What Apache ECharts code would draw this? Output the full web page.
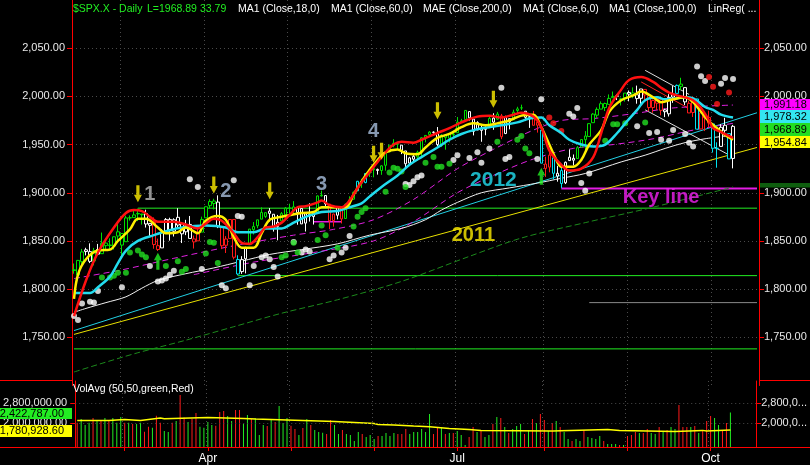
<!DOCTYPE html>
<html>
<head>
<meta charset="utf-8">
<style>
  html, body { margin: 0; padding: 0; background: #000; }
  #chart { width: 810px; height: 465px; }
</style>
<script src="https://cdn.jsdelivr.net/npm/echarts@6.0.0/dist/echarts.min.js"></script>
</head>
<body>
<div id="chart"></div>
<script>
// trading days shown on the chart, per month
const monthDays = [
  ['Feb', [12,13,14,18,19,20,21,24,25,26,27,28]],
  ['Mar', [3,4,5,6,7,10,11,12,13,14,17,18,19,20,21,24,25,26,27,28,31]],
  ['Apr', [1,2,3,4,7,8,9,10,11,14,15,16,17,21,22,23,24,25,28,29,30]],
  ['May', [1,2,5,6,7,8,9,12,13,14,15,16,19,20,21,22,23,27,28,29,30]],
  ['Jun', [2,3,4,5,6,9,10,11,12,13,16,17,18,19,20,23,24,25,26,27,30]],
  ['Jul', [1,2,3,7,8,9,10,11,14,15,16,17,18,21,22,23,24,25,28,29,30,31]],
  ['Aug', [1,4,5,6,7,8,11,12,13,14,15,18,19,20,21,22,25,26,27,28,29]],
  ['Sep', [2,3,4,5,8,9,10,11,12,15,16,17,18,19,22,23,24,25,26,29,30]],
  ['Oct', [1,2,3,6,7,8]]
];
const labelMonths = ['Apr', 'Jul', 'Oct'];

// daily OHLC
const opens = [
  1820.1,1814.8,1828.5,1839.0,1838.9,1829.2,1841.1,1836.8,1847.7,1845.8,1844.9,1855.1,
  1857.7,1849.2,1874.1,1874.2,1878.5,1877.9,1878.3,1866.2,1869.1,1845.1,1842.8,1858.9,1872.3,1860.1,1874.5,1867.7,1859.5,1867.1,1852.1,1850.1,1859.2,
  1874.0,1886.6,1891.4,1890.3,1863.9,1845.5,1852.6,1872.3,1830.7,1818.2,1831.5,1846.0,1861.7,1865.8,1872.6,1879.3,1881.0,1877.7,1865.0,1870.8,1877.1,
  1884.4,1885.3,1879.5,1883.7,1868.5,1877.4,1875.3,1880.0,1896.8,1897.1,1888.2,1871.2,1876.7,1884.9,1873.3,1888.2,1893.3,1902.0,1911.8,1910.6,1920.3,
  1923.9,1923.1,1923.1,1928.5,1942.4,1949.0,1950.3,1949.4,1943.4,1930.8,1934.8,1937.2,1942.7,1957.5,1960.5,1962.9,1962.1,1949.3,1959.9,1956.6,1960.8,
  1962.3,1973.1,1975.9,1984.2,1976.4,1965.1,1966.7,1965.8,1969.9,1977.4,1976.4,1979.8,1961.5,1976.9,1975.7,1985.3,1988.1,1984.6,1978.3,1980.0,1973.2,1965.1,
  1929.8,1926.6,1936.3,1917.3,1923.0,1910.4,1933.4,1935.7,1935.6,1947.4,1958.9,1958.4,1972.7,1980.5,1986.8,1992.6,1991.7,1998.6,2000.5,1997.4,1998.5,
  2004.1,2003.6,2001.7,1998.0,2007.2,2000.7,1988.4,1992.9,1996.7,1986.0,1981.9,1999.3,2003.1,2012.7,2009.1,1992.8,1983.3,1997.3,1966.2,1979.0,1978.2,
  1971.4,1945.8,1948.1,1970.0,1961.4,1935.6
];
const highs = [
  1826.6,1830.3,1841.7,1842.9,1847.5,1842.8,1846.9,1858.7,1852.9,1852.7,1854.5,1867.9,
  1857.7,1876.2,1876.5,1881.9,1883.6,1877.9,1882.4,1868.4,1874.4,1852.4,1862.3,1873.8,1874.1,1873.5,1884.0,1867.9,1871.9,1875.9,1855.6,1866.6,1875.2,
  1885.8,1893.2,1893.8,1897.3,1864.0,1855.0,1872.4,1872.5,1835.1,1834.2,1844.0,1862.3,1869.6,1871.9,1884.9,1879.8,1884.1,1877.7,1877.0,1880.0,1885.2,
  1888.6,1891.3,1885.5,1883.7,1879.0,1889.1,1878.8,1897.1,1902.2,1897.1,1888.2,1878.3,1886.0,1884.9,1888.8,1896.3,1901.3,1912.3,1914.5,1920.0,1924.0,
  1925.9,1925.1,1928.6,1941.7,1949.4,1955.6,1950.9,1949.4,1943.4,1937.3,1941.2,1943.7,1957.7,1959.9,1963.9,1963.7,1968.2,1960.8,1959.9,1961.0,1964.2,
  1978.6,1976.7,1985.6,1984.2,1976.4,1974.2,1969.8,1968.7,1979.9,1982.5,1983.9,1981.8,1979.9,1976.9,1986.2,1989.2,1991.4,1984.6,1981.5,1984.9,1978.9,1965.1,
  1937.4,1942.9,1936.3,1927.9,1928.9,1932.4,1944.9,1939.7,1948.4,1955.2,1964.0,1972.0,1982.6,1988.6,1994.8,1993.5,2002.0,2005.0,2002.1,1998.6,2003.4,
  2006.1,2009.3,2011.2,2007.7,2007.2,2001.0,1996.7,1997.7,1996.7,1987.2,2002.3,2010.7,2012.3,2019.3,2009.1,1995.4,1999.8,1997.3,1986.4,1981.3,1985.2,
  1971.4,1952.3,1971.2,1977.8,1961.4,1970.4
];
const lows = [
  1816.0,1809.2,1825.6,1835.0,1827.0,1824.6,1835.6,1836.8,1840.2,1840.7,1841.1,1847.7,
  1834.4,1849.2,1871.1,1874.2,1870.6,1867.0,1863.9,1854.4,1841.9,1839.6,1842.8,1858.9,1850.3,1854.6,1863.5,1847.8,1856.0,1852.6,1842.1,1850.1,1859.2,
  1874.0,1883.8,1882.7,1863.3,1841.5,1837.5,1852.4,1830.9,1814.4,1815.8,1816.3,1846.0,1856.7,1863.2,1872.6,1873.9,1870.2,1859.7,1850.6,1870.8,1872.7,
  1878.0,1878.5,1866.8,1867.7,1859.8,1870.1,1867.0,1880.0,1896.0,1885.8,1862.4,1864.8,1872.4,1868.1,1873.3,1885.4,1893.3,1902.0,1905.0,1909.8,1916.4,
  1916.0,1918.8,1918.6,1922.9,1942.4,1947.2,1944.6,1940.1,1925.8,1927.7,1930.9,1933.6,1938.0,1952.3,1959.2,1958.9,1948.5,1947.5,1944.7,1952.2,1958.2,
  1962.3,1972.6,1975.9,1974.9,1959.5,1965.1,1952.9,1959.6,1969.9,1965.3,1975.7,1955.6,1960.8,1965.8,1975.7,1982.4,1985.8,1974.4,1967.3,1970.0,1962.4,1930.7,
  1916.4,1921.2,1913.8,1911.5,1904.8,1909.0,1933.4,1928.3,1935.6,1947.4,1941.5,1958.4,1972.7,1977.7,1986.8,1984.8,1991.7,1998.6,1996.2,1990.5,1994.6,
  1994.9,1998.1,1992.4,1990.1,1995.6,1984.6,1983.0,1985.9,1980.3,1978.5,1979.1,1993.3,2003.1,2006.6,1991.0,1982.8,1978.6,1966.0,1966.2,1964.0,1968.0,
  1941.7,1926.0,1948.1,1958.4,1935.1,1925.3
];
const closes = [
  1819.3,1829.8,1838.6,1840.8,1828.8,1839.8,1836.3,1847.6,1845.1,1845.2,1854.3,1859.5,
  1845.7,1873.9,1873.8,1877.0,1878.0,1877.2,1867.6,1868.2,1846.3,1841.1,1858.8,1872.3,1860.8,1872.0,1866.5,1857.4,1865.6,1852.6,1849.0,1857.6,1872.3,
  1885.5,1890.9,1888.8,1865.1,1845.0,1852.0,1872.2,1833.1,1815.7,1830.6,1843.0,1862.3,1864.9,1871.9,1879.6,1875.4,1878.6,1863.4,1869.4,1878.3,1884.0,
  1883.7,1881.1,1884.7,1867.7,1878.2,1875.6,1878.5,1896.7,1897.5,1888.5,1870.9,1877.9,1885.1,1872.8,1888.0,1892.5,1900.5,1911.9,1909.8,1920.0,1923.6,
  1925.0,1924.2,1927.9,1940.5,1949.4,1951.3,1950.8,1943.9,1930.1,1936.2,1937.8,1942.0,1957.0,1959.5,1962.9,1962.6,1950.0,1959.5,1957.2,1961.0,1960.2,
  1973.3,1974.6,1985.4,1977.7,1963.7,1972.8,1964.7,1967.6,1977.1,1973.3,1981.6,1958.1,1978.2,1973.6,1983.5,1987.0,1988.0,1978.3,1978.9,1970.0,1970.1,1930.7,
  1925.2,1939.0,1920.2,1920.2,1909.6,1931.6,1936.9,1933.8,1946.7,1955.2,1955.1,1971.7,1981.6,1986.5,1992.4,1988.4,1997.9,2000.0,2000.1,1996.7,2003.4,
  2002.3,2000.7,1997.7,2007.7,2001.5,1988.4,1995.7,1997.5,1985.5,1984.1,1999.0,2001.6,2011.4,2010.4,1994.3,1982.8,1998.3,1966.0,1982.9,1977.8,1972.3,
  1946.2,1946.2,1967.9,1964.8,1935.1,1968.9
];
// paint bar colour per candle: g green, r red, w white, c cyan
const paint =
  'gggwwgwggg' + 'ggggggggww' + 'rrwwwwwwww' + 'rrggggwrrr' + 'rcwwgggggw' +
  'wwggggwwww' + 'wggwrrwrgg' + 'gcgcggwggg' + 'ggwwwwgggg' + 'wwgggggggw' +
  'wwwwgwgrww' + 'gggwwrrcrr' + 'cwcwwwgggg' + 'ggggggwggw' + 'gwwrrrrrww' +
  'wcgwrrcrrr' + 'ccwwcw';

// volume (thousands) and its colour
const volK = [
  2025,2167,1934,2025,2206,2128,2128,2206,2128,2206,
  2025,2245,2025,2025,1973,1973,2025,1675,1869,1830,
  2296,2025,1701,1662,2025,2089,3100,2232,2050,2180,
  2400,1869,1830,2050,1934,1908,2439,2478,2284,2089,
  2517,2517,1973,2322,2167,2206,1546,1934,1895,2128,
  2050,2672,2012,2206,1908,1779,1546,1817,2167,1934,
  1740,1662,1636,1584,2128,1934,1584,1740,1584,1546,
  1312,1662,1584,1468,1546,1390,1507,1507,1623,1507,
  1623,1584,1584,1779,1584,1662,1662,1779,1662,2361,
  1584,1817,1817,1584,1623,1623,1701,1546,1157,1468,
  1856,1662,1701,1468,1546,1973,2245,2206,1856,1623,
  1779,1895,1973,1584,1740,2167,2012,2361,2128,1701,
  2012,2089,1856,1662,1390,1312,1390,1312,1740,1468,
  1429,1390,1507,1312,1196,1196,1196,1157,1157,1507,
  1546,1662,1623,1623,1779,1623,1584,1856,1662,1740,
  1856,1779,2711,1856,1856,1856,1895,1623,1701,2089,
  2284,2206,1934,1740,2012,2422.787
];
const volPaint =
  'rgggrgrgrg' + 'ggrgrggrrg' + 'rrggrgrrgr' + 'rggggrrrgg' + 'rrggrgggrg' +
  'rgggrrgrgr' + 'gggrrggrgg' + 'ggrgggrggg' + 'grrrgggggg' + 'rrgrgrgggr' +
  'rgrggrgrgr' + 'gggrgrgrrg' + 'rgrggrggrg' + 'gggrgggrgr' + 'rrgrrggrgr' +
  'ggrrrgrgrr' + 'rggrrg';
// 50-day volume average, [bar, thousands] at each step
const volAvgK = [[0,2115],[8,2154],[12,2115],[16,2154],[18,2206],[21,2180],[22,2232],[33,2193],
  [42,2167],[45,2115],[57,2076],[65,2038],[70,1999],[75,1960],[76,1934],[80,1895],[85,1869],
  [89,1805],[94,1766],[99,1727],[102,1701],[120,1766],[134,1727],[137,1688],[151,1727],
  [158,1701],[159,1740],[165,1740]];

// indicator lines, [bar, price]
const ma6 = [[0,1772],[3,1809],[6,1838],[10,1864],[13,1879],[15,1882],[17,1881],[19,1875],[21,1870],
  [25,1870],[28,1867],[31,1863],[33,1868],[35,1873],[37,1871],[40,1858],[42,1848],[44,1847],[46,1854],
  [48,1864],[50,1865],[52,1869],[54,1877],[56,1885],[58,1886],[61,1890],[62,1892],[64,1887],[67,1885],
  [69,1892],[71,1905],[73,1916],[76,1932],[78,1942],[80,1950],[82,1953],[85,1952],[87,1955],[91,1962],
  [94,1967],[97,1973],[101,1979],[104,1980],[107,1978],[110,1981],[112,1983],[115,1979],[117,1968],
  [119,1944],[122,1929],[124,1923],[127,1925],[130,1937],[132,1962],[134,1988],[137,2007],[139,2017],
  [142,2020],[145,2015],[147,2009],[149,2004],[151,2001],[153,1999],[155,1996],[157,1988],[159,1975],
  [160,1967],[162,1963],[165,1957]];
const ma18 = [[0,1790],[1,1815],[3,1831],[6,1840],[9,1841],[11,1850],[14,1862],[16,1873],[18,1873],
  [21,1864],[23,1858],[26,1859],[28,1864],[31,1858],[33,1871],[36,1876],[38,1872],[40,1854],[42,1843],
  [45,1843],[47,1858],[49,1872],[52,1875],[57,1879],[60,1880],[62,1885],[66,1885],[68,1885],[70,1898],
  [73,1918],[76,1934],[78,1942],[81,1945],[83,1941],[86,1940],[88,1947],[91,1957],[94,1961],[97,1968],
  [100,1972],[103,1970],[106,1972],[109,1975],[112,1980],[115,1981],[117,1968],[119,1950],[121,1932],
  [122,1927],[125,1927],[127,1934],[129,1950],[132,1965],[134,1984],[137,1996],[140,2001],[142,2005],
  [145,1999],[147,1994],[150,1997],[153,1999],[155,1994],[157,1984],[159,1974],[161,1967],[163,1960],
  [165,1955]];
const ma60 = [[0,1796],[4,1796],[6,1802],[9,1813],[11,1827],[13,1840],[16,1850],[20,1856],[23,1860],
  [27,1864],[33,1866],[38,1864],[41,1859],[45,1859],[48,1863],[52,1863],[55,1869],[58,1875],[62,1880],
  [66,1881],[69,1885],[72,1889],[74,1896],[77,1906],[81,1918],[84,1929],[87,1937],[91,1947],[94,1955],
  [97,1961],[101,1966],[104,1968],[107,1970],[111,1973],[114,1977],[117,1978],[119,1970],[122,1962],
  [124,1955],[127,1950],[130,1948],[133,1950],[136,1962],[138,1972],[141,1986],[143,1996],[146,1999],
  [148,1997],[151,1998],[153,1999],[155,1998],[158,1989],[160,1986],[162,1981],[165,1978]];
const ma100 = [[0,1776],[3,1780],[8,1786],[13,1792],[17,1801],[21,1809],[28,1816],[35,1822],[42,1829],
  [49,1836],[57,1841],[66,1847],[74,1856],[82,1863],[88,1872],[92,1882],[96,1890],[102,1900],[109,1905],
  [116,1910],[122,1915],[128,1920],[137,1932],[143,1939],[148,1946],[153,1952],[158,1956],[165,1960]];
const ma200 = [[0,1714],[7,1723],[16,1734],[28,1747],[40,1761],[52,1775],[66,1789],[82,1808],[99,1834],
  [112,1853],[128,1869],[145,1885],[165,1906]];
const maeUpper = [[0,1811],[12,1820],[25,1832],[40,1845],[55,1856],[65,1862],[75,1872],[85,1893],
  [96,1925],[105,1945],[115,1965],[122,1975],[130,1977],[140,1982],[150,1988],[165,1991]];
const maeLower = [[30,1815],[45,1828],[60,1838],[75,1850],[85,1870],[96,1900],[105,1918],[115,1935],
  [125,1946],[135,1950],[145,1956],[155,1965],[165,1972]];

// drawn trend lines and levels
const trend2012 = [[0,1757],[171,1983]];
const trend2011 = [[0,1753],[171,1947]];
const downTrendHi = [[143,2027],[154,2002]];
const downTrendLo = [[143,1986],[165,1937]];
const redTrend = [[142,2015],[158,1978]];
const keyLine = [[122,1904.5],[171,1904.5]];
const rangeTop = [[16,1884],[171,1884]];
const rangeLow = [[41,1814],[171,1814]];
const floorLine = [[0,1738],[171,1738]];
const greyLevel = [[129,1786],[171,1786]];
const boxSegment = [[60,1870],[67,1870]];

// signal dots
const whiteDots = [[0,1772],[1,1768],[2,1785],[4,1787],[5,1786],[6,1798],[12,1802],[19,1824],[21,1808],
  [22,1809],[23,1811],[24,1815],[25,1819],[29,1914],[31,1906],[32,1821],[37,1804],[38,1801],[40,1913],
  [41,1876],[42,1875],[44,1804],[45,1824],[47,1833],[48,1835],[49,1831],[50,1823],[51,1813],[55,1849],
  [57,1838],[58,1841],[59,1839],[64,1831],[65,1835],[67,1838],[68,1843],[69,1855],[83,1909],[84,1908],
  [85,1912],[86,1916],[87,1918],[95,1934],[96,1939],[99,1936],[101,1942],[102,1931],[104,1946],[107,2009],
  [108,1935],[109,1937],[116,1935],[117,1997],[124,1982],[125,1979],[126,1988],[127,1910],[128,1902],
  [129,1920],[141,1969],[144,1962],[146,1963],[147,1955],[149,1954],[150,1965],[153,1961],[154,1952],
  [155,1948],[156,2031],[157,2021],[158,2016],[162,2013],[163,2019],[165,2018]];
const greenDots = [[7,1812],[9,1812],[10,1814],[11,1817],[13,1817],[14,1838],[16,1840],[17,1836],[18,1833],
  [23,1824],[26,1829],[27,1818],[28,1821],[33,1837],[34,1849],[35,1848],[36,1827],[52,1833],[53,1835],
  [55,1848],[56,1838],[61,1851],[62,1866],[63,1856],[66,1843],[70,1865],[71,1875],[72,1880],[73,1884],
  [78,1901],[79,1921],[80,1926],[81,1925],[82,1922],[83,1906],[88,1931],[90,1937],[91,1927],[92,1927],
  [94,1930],[106,1953],[111,1955],[112,1959],[113,1946],[114,1941],[133,1954],[135,1971],[136,1971],
  [138,1972],[143,1973]];
const redDots = [[119,1978],[120,1972],[122,1964],[159,2020],[160,2010],[161,1992],[164,2004]];

// arrows and notes
const downArrows = [[16,1899],[35,1908],[49,1902],[75,1940],[77,1943],[91,1985],[105,1997]];
const upArrows = [[21,1829],[117,1917]];
const noteText = ['1', '2', '3', '4', '2012', '2011', 'Key line'];
const noteAt = [[19,1898],[38,1901],[62,1909],[75,1964],[105,1913],[100,1856],[146.5,1895]];

// price tags on the right axis, volume tags on the left
const priceTags = ['1,991.18', '1,978.32', '1,968.89', '1,954.84'];
const volTags = ['2,422,787.00', '1,780,928.60'];
const priceTicks = [1750, 1800, 1850, 1900, 1950, 2000, 2050];
const volTicks = [2000000, 2800000];

// ---------------------------------------------------------------
const cats = [];
const monthStart = [];
monthDays.forEach(([m, days]) => {
  if (cats.length) monthStart.push(cats.length);
  days.forEach(d => cats.push(m + ' ' + d));
});
for (let k = 0; k < 6; k++) cats.push('');

const PAINT = { g: '#00e000', r: '#ff1a1a', w: '#ffffff', c: '#00e2f0' };
const UP = '#22ee22', DOWN = '#ff1a1a';
const FONT = '"Liberation Sans", Arial, sans-serif';

function money(v, d) {
  const s = Number(v).toFixed(d).split('.');
  s[0] = s[0].replace(/\B(?=(\d{3})+(?!\d))/g, ',');
  return s.join('.');
}

const candles = opens.map((o, i) => {
  const col = PAINT[paint[i]];
  return {
    value: [o, closes[i], lows[i], highs[i]],
    itemStyle: { color: '#000', color0: col, borderColor: col, borderColor0: col, borderWidth: 1 }
  };
});

function line(data, color, width, type, z, smooth) {
  return {
    type: 'line', xAxisIndex: 0, yAxisIndex: 0, data: data, symbol: 'none',
    smooth: smooth || false, silent: true, z: z || 3,
    lineStyle: { color: color, width: width, type: type || 'solid' }
  };
}
function dots(data, color) {
  return {
    type: 'scatter', xAxisIndex: 0, yAxisIndex: 0, data: data, symbolSize: 6,
    itemStyle: { color: color }, silent: true, z: 4
  };
}

const monthTick = (i, v) => monthStart.includes(i);
const monthLabel = (i, v) => labelMonths.includes(v.split(' ')[0]) && monthStart.includes(i);
const dotted = { color: '#4a4a4a', type: [1, 3], width: 1 };

const noteColors = ['#b8b8b8', '#a8bedc', '#a8bedc', '#a8bedc', '#22e0f2', '#ffee00', '#f020f0'];
const noteSizes = [20, 20, 20, 20, 21, 20, 20];

const chart = echarts.init(document.getElementById('chart'), null, { renderer: 'canvas' });

const graphics = [];
function gText(x, y, text, fill, align, size) {
  graphics.push({ type: 'text', x: x, y: y, z: 100,
    style: { text: text, fill: fill, font: (size || 11) + 'px ' + FONT, align: align || 'left', verticalAlign: 'middle' } });
}
function gRect(x, y, w, h, fill) {
  graphics.push({ type: 'rect', z: 99, shape: { x: x, y: y, width: w, height: h }, style: { fill: fill } });
}
function gLine(x1, y1, x2, y2, stroke) {
  graphics.push({ type: 'line', z: 99, shape: { x1: x1, y1: y1, x2: x2, y2: y2 }, style: { stroke: stroke, lineWidth: 1 } });
}

// header
gText(73, 9, '$SPX.X - Daily', '#22ee22', 'left', 10.5);
gText(147, 9, 'L=1968.89', '#22ee22', 'left', 10.5);
gText(200, 9, '33.79', '#22ee22', 'left', 10.5);
gText(238, 9, 'MA1 (Close,18,0)', '#ffffff', 'left', 10.5);
gText(331, 9, 'MA1 (Close,60,0)', '#ffffff', 'left', 10.5);
gText(423, 9, 'MAE (Close,200,0)', '#ffffff', 'left', 10.5);
gText(523, 9, 'MA1 (Close,6,0)', '#ffffff', 'left', 10.5);
gText(609, 9, 'MA1 (Close,100,0)', '#ffffff', 'left', 10.5);
gText(708, 9, 'LinReg( ...', '#ffffff', 'left', 10.5);
gText(73, 389, 'VolAvg (50,50,green,Red)', '#ffffff', 'left', 10.5);

// panel separators
gLine(0, 380.5, 72, 380.5, '#ff0000');
gLine(759, 380.5, 810, 380.5, '#ff0000');
gLine(0, 447.5, 810, 447.5, '#ff0000');

// right price tags
const tagBoxes = [[99, 11, '#ff00ff'], [110, 13, '#33e6f0'], [123, 13, '#22dd22'], [136, 12, '#ffff00']];
tagBoxes.forEach((b, k) => {
  gRect(760, b[0], 50, b[1], b[2]);
  gText(764, b[0] + b[1] / 2 + 0.5, priceTags[k], '#000000');
});
gRect(760, 183, 50, 4.5, '#0e5e0e');

// left volume tags
gRect(0, 408, 72, 11, '#22ee22');
gText(64, 413.5, volTags[0], '#000000', 'right');
gRect(0, 425, 72, 12, '#ffff00');
gText(64, 431, volTags[1], '#000000', 'right');

const option = {
  backgroundColor: '#000000',
  animation: false,
  grid: [
    { left: 72, right: 51, top: 0, height: 385.5 },
    { left: 72, right: 51, top: 381, height: 66 }
  ],
  xAxis: [
    {
      type: 'category', gridIndex: 0, data: cats, boundaryGap: true,
      axisLine: { show: false }, axisTick: { show: false }, axisLabel: { show: false },
      splitLine: { show: true, interval: monthTick, lineStyle: dotted }
    },
    {
      type: 'category', gridIndex: 1, data: cats, boundaryGap: true,
      axisLine: { show: true, lineStyle: { color: '#ff0000' } },
      axisTick: { show: true, alignWithLabel: true, interval: monthTick, length: 4, lineStyle: { color: '#ff0000' } },
      axisLabel: { interval: monthLabel, color: '#ffffff', fontSize: 12, fontFamily: FONT, margin: 6,
        formatter: v => v.split(' ')[0] },
      splitLine: { show: true, interval: monthTick, lineStyle: dotted }
    }
  ],
  yAxis: [
    {
      type: 'value', gridIndex: 0, position: 'left', min: 1700, max: 2100, interval: 50,
      axisLine: { show: true, lineStyle: { color: '#ff0000' } },
      axisTick: { show: true, length: 5, customValues: priceTicks, lineStyle: { color: '#ff0000' } },
      axisLabel: { customValues: priceTicks, color: '#e8e8e8', fontSize: 11, fontFamily: FONT, margin: 7,
        formatter: v => money(v, 2) },
      splitLine: { show: true, lineStyle: dotted }
    },
    {
      type: 'value', gridIndex: 0, position: 'right', min: 1700, max: 2100, interval: 50,
      axisLine: { show: true, lineStyle: { color: '#ff0000' } },
      axisTick: { show: true, length: 5, customValues: priceTicks, lineStyle: { color: '#ff0000' } },
      axisLabel: { customValues: priceTicks, color: '#e8e8e8', fontSize: 11, fontFamily: FONT, margin: 5,
        formatter: v => money(v, 2) },
      splitLine: { show: false }
    },
    {
      type: 'value', gridIndex: 1, position: 'left', min: 1080000, max: 3650000,
      axisLine: { show: true, lineStyle: { color: '#ff0000' } },
      axisTick: { show: true, length: 5, customValues: volTicks, lineStyle: { color: '#ff0000' } },
      axisLabel: { customValues: volTicks, color: '#e8e8e8', fontSize: 11, fontFamily: FONT, margin: 8,
        formatter: v => money(v, 2) },
      splitLine: { show: false }
    },
    {
      type: 'value', gridIndex: 1, position: 'right', min: 1080000, max: 3650000,
      axisLine: { show: true, lineStyle: { color: '#ff0000' } },
      axisTick: { show: true, length: 5, customValues: volTicks, lineStyle: { color: '#ff0000' } },
      axisLabel: { customValues: volTicks, color: '#e8e8e8', fontSize: 11, fontFamily: FONT, margin: 5,
        formatter: v => money(v, 0).slice(0, 7) + '...' },
      splitLine: { show: false }
    }
  ],
  graphic: graphics,
  series: [
    // levels and trend lines
    line(floorLine, '#22ee22', 1, 'solid', 2),
    line(rangeTop, '#22ee22', 1, 'solid', 2),
    line(rangeLow, '#22ee22', 1, 'solid', 2),
    line(greyLevel, '#8a8a8a', 1, 'solid', 2),
    line(keyLine, '#e41ce4', 2, 'solid', 2),
    line(boxSegment, '#e41ce4', 1.5, 'solid', 2),
    line(trend2012, '#22d0e4', 1, 'solid', 2),
    line(trend2011, '#e8e000', 1, 'solid', 2),
    line(downTrendHi, '#dddddd', 1, 'solid', 2),
    line(downTrendLo, '#dddddd', 1, 'solid', 2),
    line(redTrend, '#ff2020', 1, 'solid', 2),
    line(ma200, '#1c8a1c', 1, [6, 3], 2, 0.3),
    line(maeUpper, '#e020e0', 1, [6, 4], 2, 0.3),
    line(maeLower, '#e020e0', 1, [6, 4], 2, 0.3),
    line(ma100, '#f0f0f0', 1, 'solid', 2, 0.3),
    {
      type: 'candlestick', xAxisIndex: 0, yAxisIndex: 0, data: candles, barWidth: 3, z: 3, silent: true
    },
    line(ma60, '#22dcee', 2.5, 'solid', 5, 0.35),
    line(ma18, '#ffee00', 2.5, 'solid', 5, 0.35),
    line(ma6, '#ff1010', 2.5, 'solid', 6, 0.35),
    dots(whiteDots, '#ffffff'),
    dots(greenDots, '#22dd22'),
    dots(redDots, '#ff1a1a'),
    {
      type: 'scatter', xAxisIndex: 0, yAxisIndex: 0, data: downArrows, silent: true, z: 7,
      symbol: 'path://M3,0 L7,0 L7,10 L10,10 L5,18 L0,10 L3,10 Z', symbolSize: [8, 17],
      itemStyle: { color: '#ffee00' }
    },
    {
      type: 'scatter', xAxisIndex: 0, yAxisIndex: 0, data: upArrows, silent: true, z: 7,
      symbol: 'path://M5,0 L10,8 L7,8 L7,18 L3,18 L3,8 L0,8 Z', symbolSize: [8, 17],
      itemStyle: { color: '#22ee22' }
    },
    {
      type: 'scatter', xAxisIndex: 0, yAxisIndex: 0, silent: true, z: 8, symbolSize: 1,
      itemStyle: { color: 'rgba(0,0,0,0)' },
      data: noteText.map((t, k) => ({
        value: noteAt[k], name: t,
        label: { show: true, position: 'inside', formatter: '{b}', color: noteColors[k],
          fontSize: noteSizes[k], fontWeight: 'bold', fontFamily: FONT }
      }))
    },
    // volume panel
    {
      type: 'bar', xAxisIndex: 1, yAxisIndex: 2, barWidth: 1, silent: true,
      data: volK.map((v, i) => ({ value: v * 1000, itemStyle: { color: volPaint[i] === 'g' ? UP : DOWN } })),
      markLine: {
        silent: true, symbol: ['none', 'none'], label: { show: false },
        lineStyle: { color: '#4a4a4a', type: [1, 3], width: 1 },
        data: volTicks.map(v => ({ yAxis: v }))
      }
    },
    {
      type: 'line', xAxisIndex: 1, yAxisIndex: 2, step: 'end', symbol: 'none', silent: true,
      data: volAvgK.map(p => [p[0], p[1] * 1000]),
      lineStyle: { color: '#ffff00', width: 1.5 }, z: 4
    }
  ]
};

chart.setOption(option);
</script>
</body>
</html>
